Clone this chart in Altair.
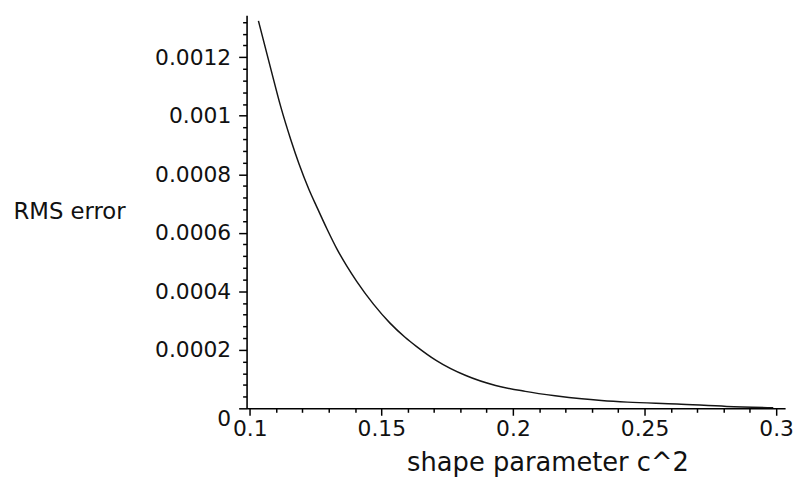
import altair as alt
import pandas as pd

# curve
c2 = [0.1033, 0.1080, 0.1118, 0.1156, 0.1187, 0.1225, 0.1256, 0.1294, 0.1331,
      0.1369, 0.1407, 0.1470, 0.1532, 0.1590, 0.1633, 0.1708, 0.1821, 0.1934,
      0.2047, 0.2160, 0.2261, 0.2336, 0.2435, 0.2623, 0.2812, 0.2989]
rms = [0.001324, 0.001160, 0.001030, 0.000918, 0.000836, 0.000748, 0.000686,
       0.000612, 0.000545, 0.000486, 0.000433, 0.000356, 0.000292, 0.000243,
       0.000212, 0.000164, 0.000112, 0.0000780, 0.0000580, 0.0000430,
       0.0000325, 0.0000268, 0.0000212, 0.0000150, 0.0000065, 0.0000020]

x_major = [0.1, 0.15, 0.2, 0.25, 0.3]
x_minor = [0.11, 0.12, 0.13, 0.14, 0.16, 0.17, 0.18, 0.19,
           0.21, 0.22, 0.23, 0.24, 0.26, 0.27, 0.28, 0.29]
y_major = [0, 0.0002, 0.0004, 0.0006, 0.0008, 0.001, 0.0012]
y_minor = [0.00004, 0.00008, 0.00012, 0.00016, 0.00024, 0.00028, 0.00032,
           0.00036, 0.00044, 0.00048, 0.00052, 0.00056, 0.00064, 0.00068,
           0.00072, 0.00076, 0.00084, 0.00088, 0.00092, 0.00096, 0.00104,
           0.00108, 0.00112, 0.00116, 0.00124, 0.00128, 0.00132]

df = pd.DataFrame({"c2": c2, "rms": rms})

FONT = "DejaVu Sans"
INK = "#111111"

x_test = "indexof(%s, datum.value) >= 0" % str(x_major)
y_test = "indexof(%s, datum.value) >= 0" % str(y_major)

x_axis = alt.Axis(
    orient="bottom",
    values=sorted(x_major + x_minor),
    labelExpr="(%s) ? '' + datum.value : ''" % x_test,
    labelOverlap=False,
    labelFlush=True,
    grid=False,
    domainColor="#000000",
    domainWidth=1.6,
    tickColor="#000000",
    tickWidth=1.5,
    tickSize=alt.condition(x_test, alt.value(7), alt.value(4)),
    labelFont=FONT,
    labelFontSize=22,
    labelColor=INK,
    labelPadding=3,
    title="shape parameter c^2",
    titleFont=FONT,
    titleFontSize=26,
    titleFontWeight="normal",
    titleColor=INK,
    titleAlign="center",
    titleBaseline="alphabetic",
    titleX=304,
    titleY=63,
)

y_axis = alt.Axis(
    orient="left",
    values=sorted(y_major + y_minor),
    labelExpr="(%s) ? '' + datum.value : ''" % y_test,
    labelOverlap=False,
    labelFlush=False,
    labelBaseline=alt.condition("datum.value == 0", alt.value("top"), alt.value("middle")),
    grid=False,
    domainColor="#000000",
    domainWidth=1.6,
    tickColor="#000000",
    tickWidth=1.5,
    tickSize=alt.condition(y_test, alt.value(8), alt.value(4)),
    labelFont=FONT,
    labelFontSize=22,
    labelColor=INK,
    labelPadding=8,
    title="RMS error",
    titleFont=FONT,
    titleFontSize=23,
    titleFontWeight="normal",
    titleColor=INK,
    titleAngle=0,
    titleAlign="left",
    titleBaseline="alphabetic",
    titleX=-236,
    titleY=205,
)

chart = (
    alt.Chart(df)
    .mark_line(color="#151515", strokeWidth=1.5, clip=True, interpolate="monotone")
    .encode(
        x=alt.X("c2:Q", scale=alt.Scale(domain=[0.0988, 0.3034], nice=False, zero=False), axis=x_axis),
        y=alt.Y("rms:Q", scale=alt.Scale(domain=[0, 0.001343], nice=False), axis=y_axis),
    )
    .properties(
        width=544,
        height=397,
        padding={"left": 241, "top": 5, "right": 10, "bottom": 70},
        autosize=alt.AutoSizeParams(type="none"),
        background="white",
    )
    .configure_view(stroke="transparent")
)

chart.save("out.html", embed_options={"renderer": "svg", "actions": False})
